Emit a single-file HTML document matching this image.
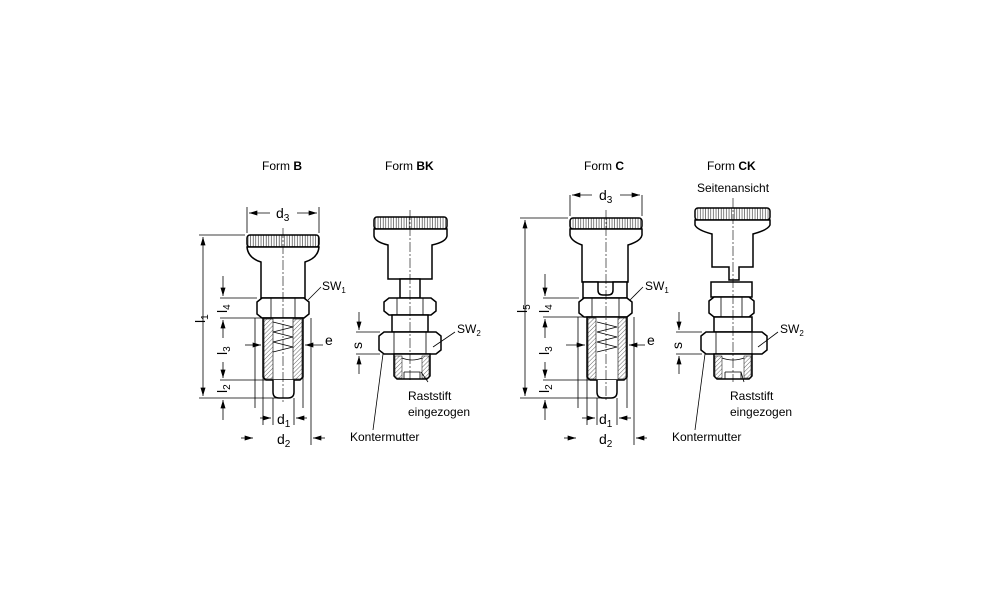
<!DOCTYPE html>
<html><head><meta charset="utf-8"><style>
html,body{margin:0;padding:0;background:#fff;}
svg{display:block;}
text{font-family:"Liberation Sans",sans-serif;fill:#000;}
</style></head><body>
<svg width="1000" height="611" viewBox="0 0 1000 611" xmlns="http://www.w3.org/2000/svg">
<defs>
<pattern id="h" width="3" height="3" patternUnits="userSpaceOnUse" patternTransform="rotate(45)"><line x1="0" y1="0" x2="0" y2="3" stroke="#000" stroke-width="0.6"/></pattern>
<pattern id="k" width="2.6" height="2" patternUnits="userSpaceOnUse"><line x1="1" y1="0" x2="1" y2="2" stroke="#000" stroke-width="0.5"/></pattern>
<marker id="a" viewBox="0 0 10 6" refX="10" refY="3" markerWidth="9" markerHeight="5" orient="auto-start-reverse" markerUnits="userSpaceOnUse"><path d="M0,0L10,3L0,6z" fill="#000"/></marker>
</defs>
<g font-size="12">
<text x="262" y="170">Form <tspan font-weight="bold">B</tspan></text>
<text x="385" y="170">Form <tspan font-weight="bold">BK</tspan></text>
<text x="584" y="170">Form <tspan font-weight="bold">C</tspan></text>
<text x="707" y="170">Form <tspan font-weight="bold">CK</tspan></text>
<text x="697" y="192">Seitenansicht</text>
</g>
<g stroke="#000" stroke-width="1.5" fill="#fff">
<rect x="247" y="235" width="72" height="12" rx="3" fill="url(#k)"/>
<path d="M247,247 Q248,258 261,262 L261,298 L305,298 L305,262 Q318,258 319,247Z"/>
<path d="M257,302 L262,298 L304,298 L309,302 L309,314 L304,318 L262,318 L257,314Z"/>
<line x1="271" y1="298" x2="271" y2="318" stroke-width="0.8"/><line x1="295" y1="298" x2="295" y2="318" stroke-width="0.8"/>
<path d="M263,318 L263,377 L266,380 L300,380 L303,377 L303,318Z"/>
<rect x="264" y="319" width="9" height="60" fill="url(#h)" stroke-width="0.6"/>
<rect x="293" y="319" width="9" height="60" fill="url(#h)" stroke-width="0.6"/>
<path d="M273,322 L293,327 L273,332 L293,337 L273,342 L293,347 L273,352" stroke-width="0.8" fill="none"/>
<path d="M273,380 L273,392 Q273,398 279,398 L288,398 Q294,398 294,392 L294,380" />
<rect x="374" y="217" width="73" height="12" rx="3" fill="url(#k)"/>
<path d="M374,229 L374,236 Q375,242 388,245 L388,279 L432,279 L432,245 Q446,242 447,236 L447,229Z"/>
<rect x="400" y="279" width="20" height="19"/>
<path d="M384,302 L389,298 L431,298 L436,302 L436,311 L431,315 L389,315 L384,311Z"/>
<line x1="397" y1="298" x2="397" y2="315" stroke-width="0.8"/><line x1="423" y1="298" x2="423" y2="315" stroke-width="0.8"/>
<rect x="392" y="315" width="36" height="17"/>
<path d="M379,336 L384,332 L436,332 L441,336 L441,350 L436,354 L384,354 L379,350Z"/>
<line x1="394" y1="332" x2="394" y2="354" stroke-width="0.8"/><line x1="426" y1="332" x2="426" y2="354" stroke-width="0.8"/>
<path d="M394,354 L394,376 L397,379 L427,379 L430,376 L430,354Z"/>
<rect x="395" y="356" width="7" height="22" fill="url(#h)" stroke-width="0.5"/>
<rect x="422" y="356" width="7" height="22" fill="url(#h)" stroke-width="0.5"/>
<path d="M402,358 Q412,362 422,358 M404,372 L420,372 L420,379 M404,372 L404,379" stroke-width="0.8" fill="none"/>
<rect x="570" y="218" width="72" height="11" rx="3" fill="url(#k)"/>
<path d="M570,229 L570,235 Q571,241 582,245 L582,282 L628,282 L628,245 Q641,241 642,235 L642,229Z"/>
<path d="M583,282 L583,298 L627,298 L627,282 L613,282 L613,290 Q613,295 608,295 L603,295 Q598,295 598,290 L598,282Z"/>
<path d="M579,302 L584,298 L627,298 L632,302 L632,313 L627,317 L584,317 L579,313Z"/>
<line x1="592" y1="298" x2="592" y2="317" stroke-width="0.8"/><line x1="619" y1="298" x2="619" y2="317" stroke-width="0.8"/>
<path d="M587,317 L587,377 L590,380 L624,380 L627,377 L627,317Z"/>
<rect x="588" y="318" width="8" height="61" fill="url(#h)" stroke-width="0.6"/>
<rect x="618" y="318" width="8" height="61" fill="url(#h)" stroke-width="0.6"/>
<path d="M597,322 L617,327 L597,332 L617,337 L597,342 L617,347 L597,352" stroke-width="0.8" fill="none"/>
<path d="M597,380 L597,392 Q597,398 603,398 L611,398 Q617,398 617,392 L617,380"/>
<rect x="695" y="208" width="75" height="12" rx="3" fill="url(#k)"/>
<path d="M695,220 L695,225 Q697,230 712,234 L712,267 L729,267 L729,280 L739,280 L739,267 L753,267 L753,234 Q768,230 770,225 L770,220Z"/>
<rect x="711" y="282" width="41" height="15"/>
<path d="M709,301 L714,297 L749,297 L754,301 L754,313 L749,317 L714,317 L709,313Z"/>
<line x1="721" y1="297" x2="721" y2="317" stroke-width="0.8"/><line x1="742" y1="297" x2="742" y2="317" stroke-width="0.8"/>
<rect x="714" y="317" width="38" height="15"/>
<path d="M701,336 L706,332 L762,332 L767,336 L767,350 L762,354 L706,354 L701,350Z"/>
<line x1="716" y1="332" x2="716" y2="354" stroke-width="0.8"/><line x1="752" y1="332" x2="752" y2="354" stroke-width="0.8"/>
<path d="M714,354 L714,376 L717,379 L749,379 L752,376 L752,354Z"/>
<rect x="715" y="356" width="7" height="22" fill="url(#h)" stroke-width="0.5"/>
<rect x="744" y="356" width="7" height="22" fill="url(#h)" stroke-width="0.5"/>
<path d="M722,358 Q733,362 744,358 M725,372 L741,372 L741,379 M725,372 L725,379" stroke-width="0.8" fill="none"/>
</g>
<g stroke="#000" stroke-width="0.6" stroke-dasharray="10,2,2,2" fill="none">
<line x1="283" y1="228" x2="283" y2="402"/>
<line x1="410" y1="210" x2="410" y2="382"/>
<line x1="606" y1="210" x2="606" y2="402"/>
<line x1="733" y1="198" x2="733" y2="382"/>
</g>
<g stroke="#000" stroke-width="0.8" fill="none">
<path d="M247,207V233 M319,207V233"/>
<line x1="249" y1="213" x2="270" y2="213" marker-start="url(#a)"/><line x1="297" y1="213" x2="317" y2="213" marker-end="url(#a)"/>
<path d="M199,235H245 M199,398H278 M220,298H257 M220,318H262 M220,380H266 M255,318V408 M263,318V425 M273,398V425 M294,398V425 M303,318V408 M311,318V445"/>
<line x1="203" y1="237" x2="203" y2="396" marker-start="url(#a)" marker-end="url(#a)"/>
<line x1="223" y1="276" x2="223" y2="296" marker-end="url(#a)"/><line x1="223" y1="320" x2="223" y2="338" marker-start="url(#a)"/>
<line x1="223" y1="362" x2="223" y2="378" marker-end="url(#a)"/><line x1="223" y1="400" x2="223" y2="420" marker-start="url(#a)"/>
<line x1="245" y1="345" x2="261" y2="345" marker-end="url(#a)"/><line x1="323" y1="345" x2="305" y2="345" marker-end="url(#a)"/>
<line x1="260" y1="418" x2="271" y2="418" marker-end="url(#a)"/><line x1="307" y1="418" x2="296" y2="418" marker-end="url(#a)"/>
<line x1="241" y1="438" x2="253" y2="438" marker-end="url(#a)"/><line x1="325" y1="438" x2="313" y2="438" marker-end="url(#a)"/>
<path d="M308,300L321,287"/>
<path d="M356,332H380 M356,354H380"/>
<line x1="359" y1="312" x2="359" y2="330" marker-end="url(#a)"/><line x1="359" y1="356" x2="359" y2="374" marker-start="url(#a)"/>
<path d="M433,347L455,332 M383,354L373,430 M421,372L428,382"/>
<path d="M570,195V216 M642,195V216"/>
<line x1="572" y1="195" x2="592" y2="195" marker-start="url(#a)"/><line x1="620" y1="195" x2="640" y2="195" marker-end="url(#a)"/>
<path d="M520,218H568 M520,398H600 M543,298H579 M543,317H586 M543,380H589 M578,317V408 M587,317V425 M597,398V425 M617,398V425 M627,317V408 M634,317V445"/>
<line x1="525" y1="220" x2="525" y2="396" marker-start="url(#a)" marker-end="url(#a)"/>
<line x1="545" y1="274" x2="545" y2="296" marker-end="url(#a)"/><line x1="545" y1="319" x2="545" y2="338" marker-start="url(#a)"/>
<line x1="545" y1="362" x2="545" y2="378" marker-end="url(#a)"/><line x1="545" y1="400" x2="545" y2="420" marker-start="url(#a)"/>
<line x1="566" y1="345" x2="585" y2="345" marker-end="url(#a)"/><line x1="645" y1="345" x2="629" y2="345" marker-end="url(#a)"/>
<line x1="582" y1="418" x2="595" y2="418" marker-end="url(#a)"/><line x1="631" y1="418" x2="619" y2="418" marker-end="url(#a)"/>
<line x1="564" y1="438" x2="576" y2="438" marker-end="url(#a)"/><line x1="647" y1="438" x2="636" y2="438" marker-end="url(#a)"/>
<path d="M630,300L643,287"/>
<path d="M676,332H702 M676,354H702"/>
<line x1="679" y1="312" x2="679" y2="330" marker-end="url(#a)"/><line x1="679" y1="356" x2="679" y2="374" marker-start="url(#a)"/>
<path d="M758,347L778,332 M705,354L695,430 M741,372L744,382"/>
</g>
<g font-size="14">
<text x="276" y="218">d<tspan font-size="10" dy="3">3</tspan></text>
<text x="599" y="200">d<tspan font-size="10" dy="3">3</tspan></text>
<text x="277" y="424">d<tspan font-size="10" dy="3">1</tspan></text>
<text x="277" y="444">d<tspan font-size="10" dy="3">2</tspan></text>
<text x="599" y="424">d<tspan font-size="10" dy="3">1</tspan></text>
<text x="599" y="444">d<tspan font-size="10" dy="3">2</tspan></text>
<text x="325" y="345">e</text>
<text x="647" y="345">e</text>
<text transform="translate(205,323) rotate(-90)">l<tspan font-size="10" dy="3">1</tspan></text>
<text transform="translate(227,313) rotate(-90)">l<tspan font-size="10" dy="3">4</tspan></text>
<text transform="translate(227,355) rotate(-90)">l<tspan font-size="10" dy="3">3</tspan></text>
<text transform="translate(227,393) rotate(-90)">l<tspan font-size="10" dy="3">2</tspan></text>
<text transform="translate(527,313) rotate(-90)">l<tspan font-size="10" dy="3">5</tspan></text>
<text transform="translate(549,313) rotate(-90)">l<tspan font-size="10" dy="3">4</tspan></text>
<text transform="translate(549,355) rotate(-90)">l<tspan font-size="10" dy="3">3</tspan></text>
<text transform="translate(549,393) rotate(-90)">l<tspan font-size="10" dy="3">2</tspan></text>
<text transform="translate(362,349) rotate(-90)">s</text>
<text transform="translate(682,349) rotate(-90)">s</text>
</g>
<g font-size="12">
<text x="322" y="290">SW<tspan font-size="8" dy="3">1</tspan></text>
<text x="645" y="290">SW<tspan font-size="8" dy="3">1</tspan></text>
<text x="457" y="333">SW<tspan font-size="8" dy="3">2</tspan></text>
<text x="780" y="333">SW<tspan font-size="8" dy="3">2</tspan></text>
<text x="408" y="400">Raststift</text><text x="408" y="416">eingezogen</text>
<text x="730" y="400">Raststift</text><text x="730" y="416">eingezogen</text>
<text x="350" y="441">Kontermutter</text>
<text x="672" y="441">Kontermutter</text>
</g>
</svg>
</body></html>
